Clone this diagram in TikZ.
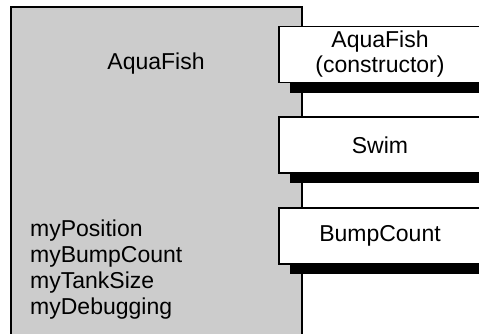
\documentclass[tikz,border=0pt]{standalone}
\usepackage{fontspec}
\setmainfont{Liberation Sans}
\usetikzlibrary{shadows}

\tikzset{
  label font/.style={font=\fontsize{23}{25}\selectfont},
  classbox/.style={draw, line width=1.6pt, fill=gray!40},
  methodbox/.style={draw, line width=1.8pt, fill=white, label font,
    minimum width=202pt, minimum height=56pt, align=center, inner sep=0pt,
    drop shadow={shadow xshift=11pt, shadow yshift=-10pt, fill=black, opacity=1}},
  attrtext/.style={label font, inner sep=0pt, anchor=base west},
}

\begin{document}
\begin{tikzpicture}[x=1pt, y=-1pt]
    % Marco de la figura
    \useasboundingbox (0,0) rectangle (479,333);
    \clip (0,0) rectangle (479,333);

    % La clase como un rectangulo gris que sigue hacia abajo
    \draw[classbox] (11,7) rectangle (302,345);

    % Nombre de la clase
    \node[label font, anchor=base] (clsname) at (156,69.5) {AquaFish};

    % Atributos
    \foreach \attr [count=\i] in {myPosition, myBumpCount, myTankSize, myDebugging}
      \node[attrtext] (attr\i) at (30, 210+26*\i) {\attr};

    % Metodos como cajas blancas con sombra negra
    \node[methodbox] (ctor) at (380,54.5) {AquaFish\\(constructor)};
    \node[methodbox] (swim) at (380,145) {Swim};
    \node[methodbox] (bump) at (380,236) {BumpCount};
\end{tikzpicture}
\end{document}
